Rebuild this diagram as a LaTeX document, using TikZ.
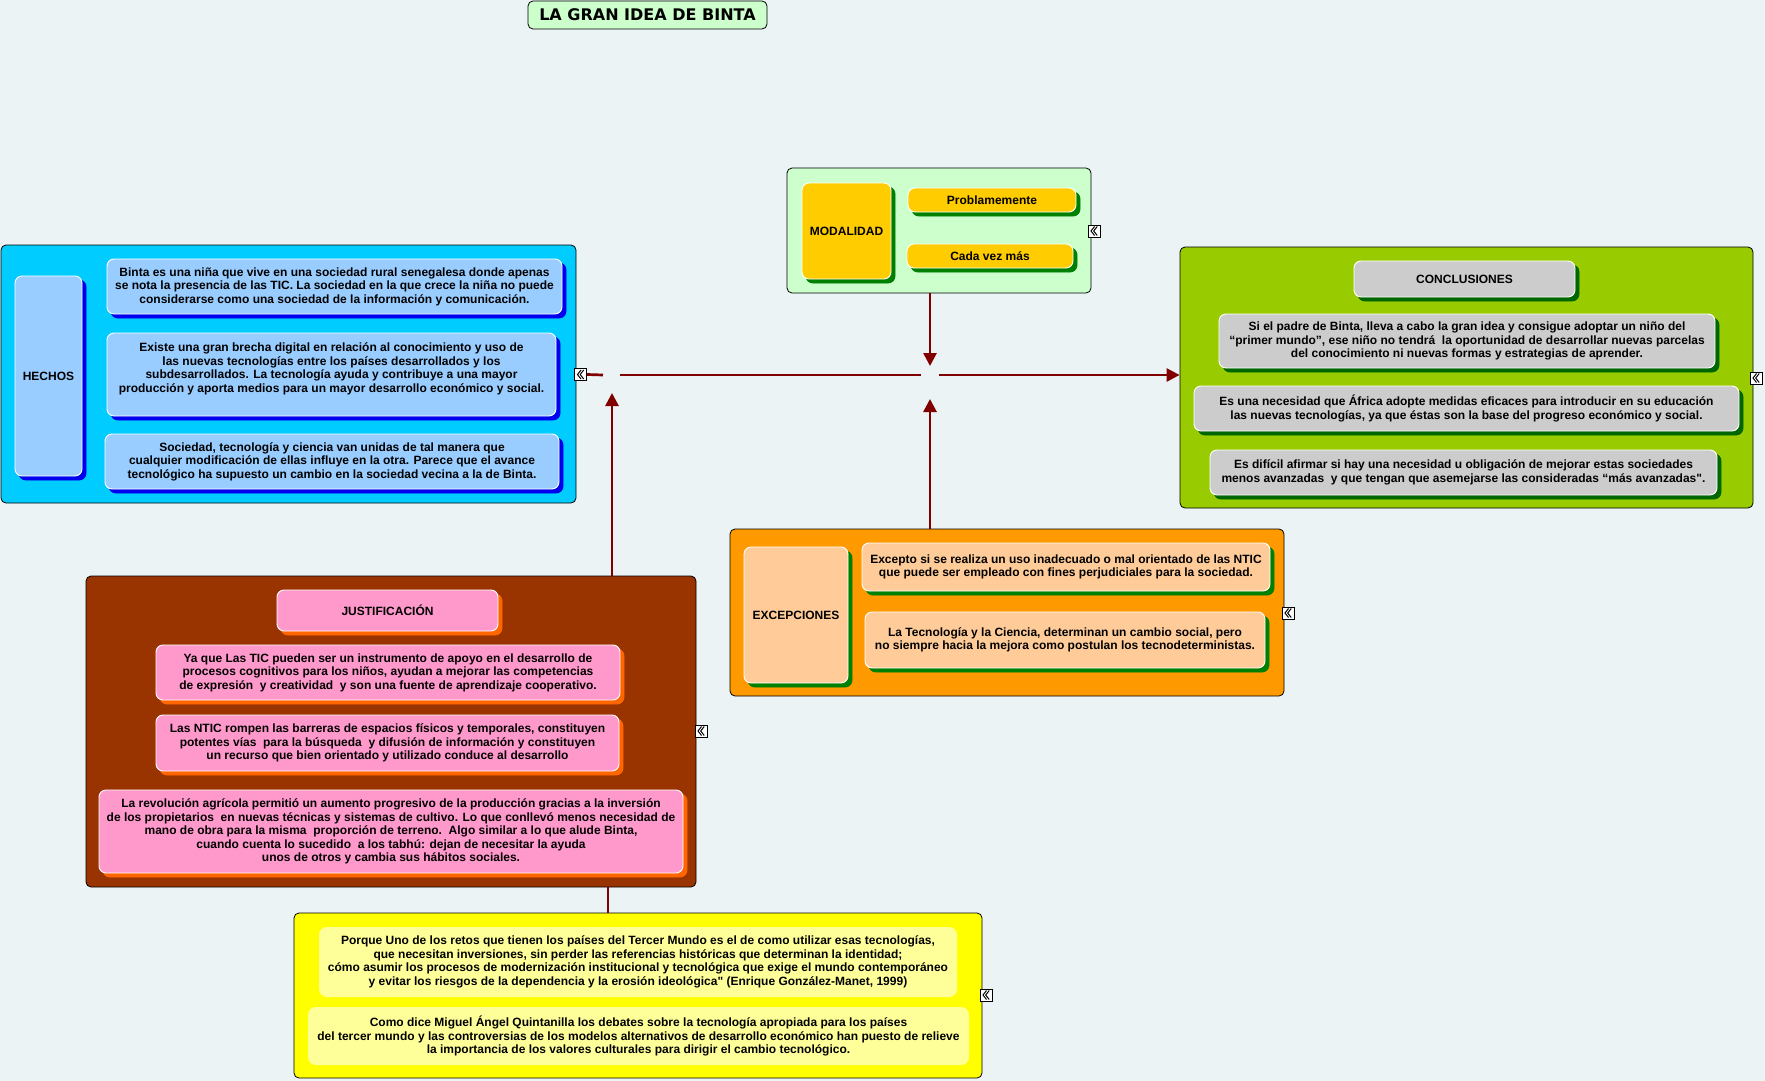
\documentclass[tikz,border=0pt]{standalone}
\usepackage{fontspec}
\setmainfont{Liberation Sans}[Ligatures=TeXOff]
\newfontfamily\ttlfont{DejaVu Sans}
\usetikzlibrary{arrows.meta,shadows,calc}
\newcommand\bxfont{\fontsize{12}{13.5}\selectfont\bfseries}
\definecolor{bgc}{HTML}{EBF3F5}
\definecolor{conn}{HTML}{800000}
\definecolor{lgreen}{HTML}{CCFFCC}
\definecolor{hout}{HTML}{00CCFF}
\definecolor{hin}{HTML}{99CCFF}
\definecolor{hsh}{HTML}{0000EE}
\definecolor{gold}{HTML}{FFCC00}
\definecolor{dgreen}{HTML}{008000}
\definecolor{cout}{HTML}{99CC00}
\definecolor{cin}{HTML}{CCCCCC}
\definecolor{csh}{HTML}{006600}
\definecolor{eout}{HTML}{FF9900}
\definecolor{ein}{HTML}{FFCC99}
\definecolor{jout}{HTML}{993300}
\definecolor{jin}{HTML}{FF99CC}
\definecolor{jsh}{HTML}{FF6600}
\definecolor{yout}{HTML}{FFFF00}
\definecolor{yin}{HTML}{FFFF99}
\begin{document}
\begin{tikzpicture}[x=1pt,y=-1pt,
  outer/.style={draw=black, line width=0.8pt, rounded corners=5pt, inner sep=0pt},
  inner/.style 2 args={fill=#1, draw=white, line width=0.9pt, rounded corners=7pt, inner sep=2pt, align=center, font=\bxfont,
     copy shadow={shadow xshift=4pt, shadow yshift=-4pt, fill=#2, draw=#2}},
  yinner/.style={fill=yin, draw=none, rounded corners=8pt, inner sep=2pt, align=center, font=\bxfont},
  ttl/.style={draw=black, line width=0.8pt, fill=lgreen, rounded corners=5pt, inner sep=0pt, font={\ttlfont\fontsize{16}{18}\selectfont\bfseries}},
  icon/.style={draw=black, fill=white, line width=0.8pt, minimum size=12pt, inner sep=0pt,
     path picture={
       \draw[line width=1pt] ([shift={(0.5,-4.5)}]path picture bounding box.center) -- ++(-3.5,4.5) -- ++(3.5,4.5);
       \draw[line width=1pt] ([shift={(3.2,-4.5)}]path picture bounding box.center) -- ++(-3.5,4.5) -- ++(3.5,4.5);}},
  cn/.style={draw=conn, line width=2.7pt},
  arr/.style={cn, -{Triangle[length=13pt,width=13pt]}}
]
\useasboundingbox (0,0) rectangle (1765,1081);
\fill[bgc] (0,0) rectangle (1765,1081);

% title
\node[ttl, minimum width=239pt, minimum height=28pt] (title) at (647.5,15) {LA GRAN IDEA DE BINTA};

% HECHOS
\node[outer, fill=hout, minimum width=575pt, minimum height=258pt] (hechos) at (288.5,374) {};
\node[inner={hin}{hsh}, minimum width=67pt, minimum height=200pt] (hlab) at (48.5,376) {HECHOS};
\node[inner={hin}{hsh}, minimum width=455pt, minimum height=55pt] (h1) at (334.5,286.5) {Binta es una niña que vive en una sociedad rural senegalesa donde apenas\\ se nota la presencia de las TIC. La sociedad en la que crece la niña no puede\\ considerarse como una sociedad de la información y comunicación.};
\node[inner={hin}{hsh}, minimum width=449pt, minimum height=83pt] (h2) at (331.5,374.5) {Existe una gran brecha digital en relación al conocimiento y uso de\\ las nuevas tecnologías entre los países desarrollados y los\\ subdesarrollados. La tecnología ayuda y contribuye a una mayor\\ producción y aporta medios para un mayor desarrollo económico y social.\\ \mbox{}};
\node[inner={hin}{hsh}, minimum width=454pt, minimum height=55pt] (h3) at (332,461.5) {Sociedad, tecnología y ciencia van unidas de tal manera que\\ cualquier modificación de ellas influye en la otra. Parece que el avance\\ tecnológico ha supuesto un cambio en la sociedad vecina a la de Binta.};
\node[icon] (hico) at (580.5,374.5) {};

% MODALIDAD
\node[outer, fill=lgreen, minimum width=304pt, minimum height=125pt] (modal) at (939,230.5) {};
\node[inner={gold}{dgreen}, minimum width=89pt, minimum height=96pt] (mlab) at (846.5,231) {MODALIDAD};
\node[inner={gold}{dgreen}, minimum width=168pt, minimum height=24pt] (m1) at (992,200) {Problamemente};
\node[inner={gold}{dgreen}, minimum width=166pt, minimum height=24pt] (m2) at (990,256) {Cada vez más};
\node[icon] (mico) at (1094,231) {};

% CONCLUSIONES
\node[outer, fill=cout, minimum width=573pt, minimum height=261pt] (concl) at (1466.5,377.5) {};
\node[inner={cin}{csh}, minimum width=221pt, minimum height=36pt] (c0) at (1464.5,279) {CONCLUSIONES};
\node[inner={cin}{csh}, minimum width=496pt, minimum height=54pt] (c1) at (1467,341) {Si el padre de Binta, lleva a cabo la gran idea y consigue adoptar un niño del\\ “primer mundo”, ese niño no tendrá\ \ la oportunidad de desarrollar nuevas parcelas\\ del conocimiento ni nuevas formas y estrategias de aprender.};
\node[inner={cin}{csh}, minimum width=545pt, minimum height=45pt] (c2) at (1466.5,408.5) {Es una necesidad que África adopte medidas eficaces para introducir en su educación\\ las nuevas tecnologías, ya que éstas son la base del progreso económico y social.};
\node[inner={cin}{csh}, minimum width=507pt, minimum height=45pt] (c3) at (1463.5,472.5) {Es difícil afirmar si hay una necesidad u obligación de mejorar estas sociedades\\ menos avanzadas\ \ y que tengan que asemejarse las consideradas “más avanzadas".};
\node[icon] (cico) at (1756,378) {};

% EXCEPCIONES
\node[outer, fill=eout, minimum width=554pt, minimum height=167pt] (exc) at (1007,612.5) {};
\node[inner={ein}{dgreen}, minimum width=104pt, minimum height=136pt] (elab) at (796,615) {EXCEPCIONES};
\node[inner={ein}{dgreen}, minimum width=408pt, minimum height=48pt] (e1) at (1066,567) {Excepto si se realiza un uso inadecuado o mal orientado de las NTIC\\ que puede ser empleado con fines perjudiciales para la sociedad.};
\node[inner={ein}{dgreen}, minimum width=400pt, minimum height=56pt] (e2) at (1065,640) {La Tecnología y la Ciencia, determinan un cambio social, pero\\ no siempre hacia la mejora como postulan los tecnodeterministas.};
\node[icon] (eico) at (1288,613) {};

% JUSTIFICACION
\node[outer, fill=jout, minimum width=610pt, minimum height=311pt] (just) at (391,731.5) {};
\node[inner={jin}{jsh}, minimum width=221pt, minimum height=41pt] (j0) at (387.5,610.5) {JUSTIFICACIÓN};
\node[inner={jin}{jsh}, minimum width=464pt, minimum height=55pt] (j1) at (388,672.5) {Ya que Las TIC pueden ser un instrumento de apoyo en el desarrollo de\\ procesos cognitivos para los niños, ayudan a mejorar las competencias\\ de expresión\ \ y creatividad\ \ y son una fuente de aprendizaje cooperativo.};
\node[inner={jin}{jsh}, minimum width=463pt, minimum height=56pt] (j2) at (387.5,743) {Las NTIC rompen las barreras de espacios físicos y temporales, constituyen\\ potentes vías\ \ para la búsqueda\ \ y difusión de información y constituyen\\ un recurso que bien orientado y utilizado conduce al desarrollo};
\node[inner={jin}{jsh}, minimum width=584pt, minimum height=83pt] (j3) at (391,831.5) {La revolución agrícola permitió un aumento progresivo de la producción gracias a la inversión\\ de los propietarios\ \ en nuevas técnicas y sistemas de cultivo. Lo que conllevó menos necesidad de\\ mano de obra para la misma\ \ proporción de terreno.\ \ Algo similar a lo que alude Binta,\\ cuando cuenta lo sucedido\ \ a los tabhú: dejan de necesitar la ayuda\\ unos de otros y cambia sus hábitos sociales.};
\node[icon] (jico) at (701,731) {};

% YELLOW
\node[outer, fill=yout, minimum width=688pt, minimum height=165pt] (yel) at (638,995.5) {};
\node[yinner, minimum width=638pt, minimum height=70pt] (y1) at (638,962) {Porque Uno de los retos que tienen los países del Tercer Mundo es el de como utilizar esas tecnologías,\\ que necesitan inversiones, sin perder las referencias históricas que determinan la identidad;\\ cómo asumir los procesos de modernización institucional y tecnológica que exige el mundo contemporáneo\\ y evitar los riesgos de la dependencia y la erosión ideológica" (Enrique González-Manet, 1999)};
\node[yinner, minimum width=661pt, minimum height=58pt] (y2) at (638.5,1036) {Como dice Miguel Ángel Quintanilla los debates sobre la tecnología apropiada para los países\\ del tercer mundo y las controversias de los modelos alternativos de desarrollo económico han puesto de relieve\\ la importancia de los valores culturales para dirigir el cambio tecnológico.};
\node[icon] (yico) at (986,995) {};

% connectors
\coordinate (jn1) at (612,375);
\coordinate (jn2) at (930,375);
\coordinate (lk) at (608,900);
\draw[cn] (hico.east) -- ([xshift=-9pt]jn1);
\draw[cn] ([xshift=8pt]jn1) -- ([xshift=-9pt]jn2);
\draw[arr] ([xshift=9pt]jn2) -- (jn2 -| concl.west);
\draw[arr] (just.north -| jn1) -- ([yshift=-18pt]jn1);
\draw[arr] (modal.south -| jn2) -- ([yshift=9pt]jn2);
\draw[arr] (exc.north -| jn2) -- ([yshift=-24pt]jn2);
\draw[cn] (just.south -| lk) -- (yel.north -| lk);
\end{tikzpicture}
\end{document}
